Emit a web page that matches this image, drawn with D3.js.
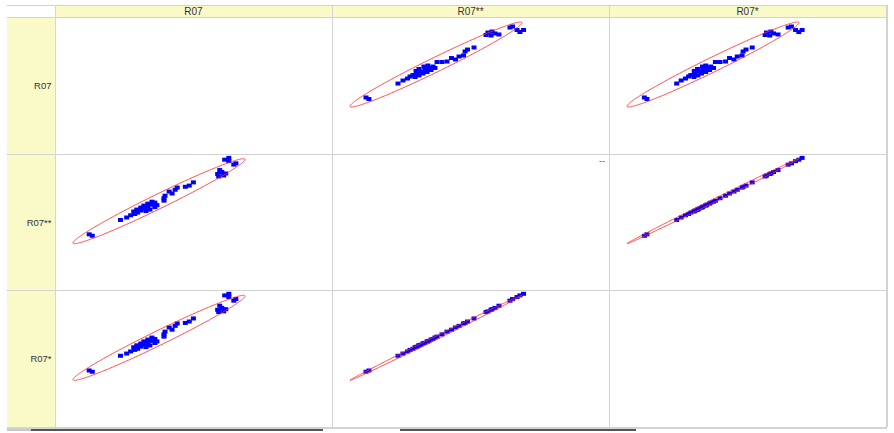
<!DOCTYPE html>
<html><head><meta charset="utf-8">
<script src="https://cdn.jsdelivr.net/npm/d3@7"></script>
<style>
html,body{margin:0;padding:0;background:#fff;}
svg{display:block;font-family:"Liberation Sans",Arial,sans-serif;}
</style></head>
<body>
<svg id="chart" width="894" height="433"></svg>
<script>
// ---- data ----
const variables = ["R07", "R07**", "R07*"];
// observation values (arbitrary units, 0..100 spans each variable's ellipse extent)
const r07 = [11.2, 9.4, 27.6, 31.2, 33.5, 35.9, 37.6, 35.3, 39.4, 37.1, 41.8, 39.4, 43.5, 41.2, 45.9, 43.5, 47.6, 45.9, 47.6, 48.8, 44.7, 42.4, 52.9, 52.9, 53.5, 57.6, 55.9, 59.4, 60.6, 65.3, 67.6, 70.0, 84.7, 87.6, 88.8, 86.5, 85.3, 84.1, 93.5, 94.7, 90.6, 88.2, 90.6];
const r07dd = [9.3, 11.0, 27.9, 30.8, 33.4, 34.9, 36.6, 37.8, 39.0, 40.1, 41.3, 42.4, 43.6, 44.8, 45.9, 47.1, 48.3, 49.4, 43.0, 45.3, 40.1, 38.4, 50.6, 53.5, 56.4, 59.0, 61.3, 63.4, 66.0, 66.9, 68.3, 72.1, 79.1, 80.2, 82.6, 84.3, 86.6, 82.0, 93.0, 94.5, 97.1, 98.8, 100.9];
const r07d = [10.1, 11.6, 28.9, 31.5, 34.0, 35.8, 37.1, 38.9, 39.6, 41.2, 41.9, 43.3, 44.1, 45.8, 46.4, 48.0, 48.7, 50.3, 43.9, 45.8, 41.0, 39.1, 51.4, 54.1, 57.3, 59.6, 62.2, 64.1, 66.9, 67.5, 69.2, 72.8, 80.3, 81.1, 83.7, 85.2, 87.8, 83.0, 93.7, 95.6, 98.0, 99.9, 101.8];
const series = [r07, r07dd, r07d];
// correlation of each pair (for the ellipses) : [R07,R07**], [R07,R07*], [R07**,R07*]
const corrPairs = [[0, 1, 0.982], [0, 2, 0.982], [1, 2, 0.9991]];
const varDomain = [0, 100];

// ---- layout ----
const svg = d3.select("#chart");
const L = { left: 7, labelRight: 55, right: 886, top: 5, headBottom: 17, bottom: 427 };
const colX = d3.scaleBand().domain(variables).range([L.labelRight, L.right]);
const rowY = d3.scaleBand().domain(variables).range([L.headBottom, L.bottom]);
const yellow = "#fafac9", gridCol = "#d3d3d3", textCol = "#333";

// backgrounds
svg.append("rect").attr("x", L.labelRight).attr("y", L.top).attr("width", L.right - L.labelRight).attr("height", L.headBottom - L.top).attr("fill", yellow);
svg.append("rect").attr("x", L.left).attr("y", L.headBottom).attr("width", L.labelRight - L.left).attr("height", L.bottom - L.headBottom).attr("fill", yellow);

// grid lines
const g = svg.append("g").attr("stroke", gridCol).attr("stroke-width", 1).attr("shape-rendering", "crispEdges");
g.append("line").attr("x1", L.left).attr("x2", L.right).attr("y1", L.top + 0.5).attr("y2", L.top + 0.5);
variables.forEach(v => {
  const y = rowY(v);
  g.append("line").attr("x1", L.left).attr("x2", L.right).attr("y1", y + 0.5).attr("y2", y + 0.5);
  const x = colX(v);
  g.append("line").attr("x1", x + 0.5).attr("x2", x + 0.5).attr("y1", L.top).attr("y2", L.bottom);
});
g.append("line").attr("x1", L.left).attr("x2", L.right + 1).attr("y1", L.bottom + 0.5).attr("y2", L.bottom + 0.5).attr("stroke-width", 2);
g.append("line").attr("x1", L.right + 0.5).attr("x2", L.right + 0.5).attr("y1", L.top).attr("y2", L.bottom).attr("stroke-width", 2);
g.append("line").attr("x1", L.labelRight + 0.5).attr("x2", L.labelRight + 0.5).attr("y1", L.top).attr("y2", L.bottom).attr("stroke", "#d8d8c4");

// header labels
svg.selectAll("text.head").data(variables).join("text").attr("class", "head")
  .attr("x", d => colX(d) + colX.bandwidth() / 2).attr("y", 14.5)
  .attr("text-anchor", "middle").attr("font-size", 10).attr("fill", textCol).text(d => d);
// row labels
svg.selectAll("text.rowlab").data(variables).join("text").attr("class", "rowlab")
  .attr("x", 51.5).attr("y", d => rowY(d) + rowY.bandwidth() / 2 + 3.5)
  .attr("text-anchor", "end").attr("font-size", 9.5).attr("fill", textCol).text(d => d);

function corrOf(a, b) {
  const p = corrPairs.find(q => (q[0] === a && q[1] === b) || (q[0] === b && q[1] === a));
  return p ? p[2] : 1;
}

// cells
variables.forEach((rv, ri) => {
  variables.forEach((cv, ci) => {
    if (ri === ci) return;
    const x0 = colX(cv), y0 = rowY(rv);
    const xs = d3.scaleLinear().domain(varDomain).range([x0 + 18, x0 + 190]);
    const ys = d3.scaleLinear().domain(varDomain).range([y0 + 90, y0 + 5]);
    const pts = series[ci].map((xv, i) => [xv, series[ri][i]]);
    const cell = svg.append("g");
    cell.selectAll("rect").data(pts).join("rect")
      .attr("x", d => xs(d[0]) - 2.5).attr("y", d => ys(d[1]) - 2)
      .attr("width", 5).attr("height", 4).attr("fill", "#0000ff");
    const r = corrOf(ri, ci);
    const phi = Math.acos(r);
    const mid = (varDomain[0] + varDomain[1]) / 2, half = (varDomain[1] - varDomain[0]) / 2;
    const ts = d3.range(0, 2 * Math.PI, Math.PI / 180);
    const ell = ts.map(t => [mid + half * Math.cos(t), mid + half * Math.cos(t - phi)]);
    cell.append("path")
      .attr("d", d3.line().x(d => xs(d[0])).y(d => ys(d[1])).curve(d3.curveLinearClosed)(ell))
      .attr("fill", "none").attr("stroke", "#ff2a2a").attr("stroke-opacity", 0.85).attr("stroke-width", 1);
  });
});

// small mark in the diagonal cell
svg.append("text").attr("x", 605).attr("y", 163.5).attr("text-anchor", "end")
  .attr("font-size", 9).attr("fill", "#555").text("--");

// scrollbar remnants at the bottom
const sb = svg.append("g").attr("stroke-width", 2);
sb.append("line").attr("x1", 7).attr("x2", 31).attr("y1", 430).attr("y2", 430).attr("stroke", "#c8c8c8");
sb.append("line").attr("x1", 31).attr("x2", 323).attr("y1", 430).attr("y2", 430).attr("stroke", "#555");
sb.append("line").attr("x1", 400).attr("x2", 636).attr("y1", 430).attr("y2", 430).attr("stroke", "#555");
</script>
</body></html>
